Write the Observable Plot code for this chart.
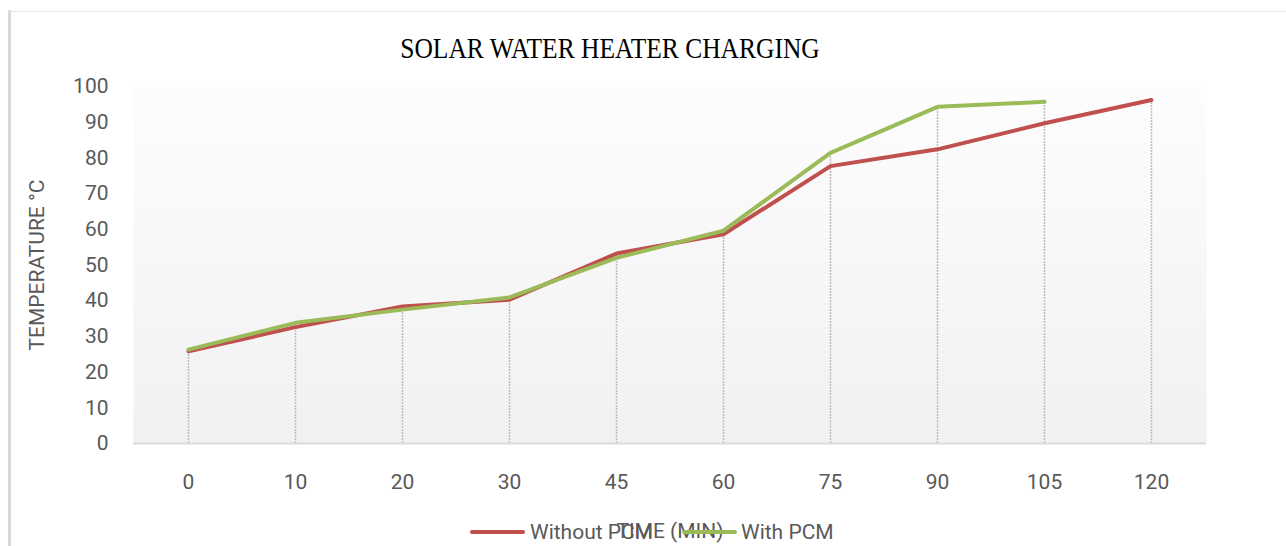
<!DOCTYPE html>
<html>
<head>
<meta charset="utf-8">
<script src="https://cdn.jsdelivr.net/npm/d3@7"></script>
<script src="https://cdn.jsdelivr.net/npm/@observablehq/plot@0.6"></script>
<style>
  html, body { margin: 0; padding: 0; background: #fff; }
  #wrap { position: relative; width: 1286px; height: 546px; overflow: hidden; background: #fff; font-family: Roboto, "Open Sans", sans-serif; }
  #wrap svg { position: absolute; left: 0; top: 0; background: transparent; }
  .abs { position: absolute; white-space: nowrap; }
  #title { left: 0; width: 1220px; text-align: center; top: 34px; font-family: "Liberation Serif", "Times New Roman", serif; font-size: 25.5px; color: #000; transform: scale(1, 1.18); transform-origin: 610px 20px; }
  #ytitle { left: 37px; top: 265px; transform: translate(-50%, -50%) rotate(-90deg); font-size: 21px; color: #595959; }
  #xtitle { left: 670px; top: 531px; transform: translate(-50%, -50%); font-size: 21px; color: #595959; }
  .sw { height: 4px; width: 55px; border-radius: 2px; }
  .lg { font-size: 21px; color: #595959; transform: translateY(-50%); }
</style>
</head>
<body>
<div id="wrap">
  <div class="abs" style="left:8px;top:10px;width:3px;height:540px;background:#d9d9d9"></div>
  <div class="abs" style="left:8px;top:11px;width:1290px;height:1px;background:#e6e6e6"></div>
  <div id="chart"></div>
  <div id="title" class="abs">SOLAR WATER HEATER CHARGING</div>
  <div id="ytitle" class="abs">TEMPERATURE °C</div>
  <div id="xtitle" class="abs">TIME (MIN)</div>
  <div class="abs sw" style="left:470px;top:530px;background:#C0504D"></div>
  <div class="abs lg" style="left:530px;top:532px">Without PCM</div>
  <div class="abs sw" style="left:682px;top:530px;background:#9BBB59"></div>
  <div class="abs lg" style="left:741px;top:532px">With PCM</div>
</div>
<script>
const times = ["0", "10", "20", "30", "45", "60", "75", "90", "105", "120"];
const withoutPCM = [25.8, 32.6, 38.4, 40.3, 53.2, 58.6, 77.7, 82.4, 89.7, 96.2];
const withPCM = [26.3, 33.8, 37.5, 40.9, 52.0, 59.6, 81.4, 94.3, 95.7, null];
const yTicks = [0, 10, 20, 30, 40, 50, 60, 70, 80, 90, 100];

const redData = times.map((t, i) => ({t, v: withoutPCM[i]})).filter(d => d.v != null);
const greenData = times.map((t, i) => ({t, v: withPCM[i]})).filter(d => d.v != null);
const dropData = times.map((t, i) => ({t, v: d3.max([withoutPCM[i], withPCM[i]].filter(v => v != null))}));

const chart = Plot.plot({
  width: 1286,
  height: 546,
  marginLeft: 133,
  marginRight: 80,
  marginTop: 86,
  marginBottom: 103,
  style: {background: "transparent", fontFamily: "Roboto, 'Open Sans', sans-serif", color: "#595959"},
  x: {type: "point", domain: times, padding: 0.5, label: null},
  y: {domain: [0, 100], label: null},
  marks: [
    Plot.frame({fill: "url(#bgGrad)", stroke: null}),
    Plot.axisY({ticks: yTicks, tickSize: 0, tickPadding: 25, fontSize: 21, fill: "#595959", label: null}),
    Plot.axisX({tickSize: 0, tickPadding: 31, fontSize: 21, fill: "#595959", label: null}),
    Plot.ruleX(dropData, {x: "t", y1: 0, y2: "v", stroke: "#bdbdbd", strokeWidth: 1.5, strokeDasharray: "2,1"}),
    Plot.ruleY([0], {stroke: "#d9d9d9", strokeWidth: 2}),
    Plot.line(redData, {x: "t", y: "v", stroke: "#C0504D", strokeWidth: 4, strokeLinejoin: "round", strokeLinecap: "round"}),
    Plot.line(greenData, {x: "t", y: "v", stroke: "#9BBB59", strokeWidth: 4, strokeLinejoin: "round", strokeLinecap: "round"})
  ]
});

const defs = d3.select(chart).insert("defs", ":first-child");
const g = defs.append("linearGradient").attr("id", "bgGrad").attr("x1", 0).attr("y1", 0).attr("x2", 0).attr("y2", 1);
g.append("stop").attr("offset", "0%").attr("stop-color", "#fdfdfd");
g.append("stop").attr("offset", "100%").attr("stop-color", "#f1f1f1");

document.getElementById("chart").appendChild(chart);
</script>
</body>
</html>
